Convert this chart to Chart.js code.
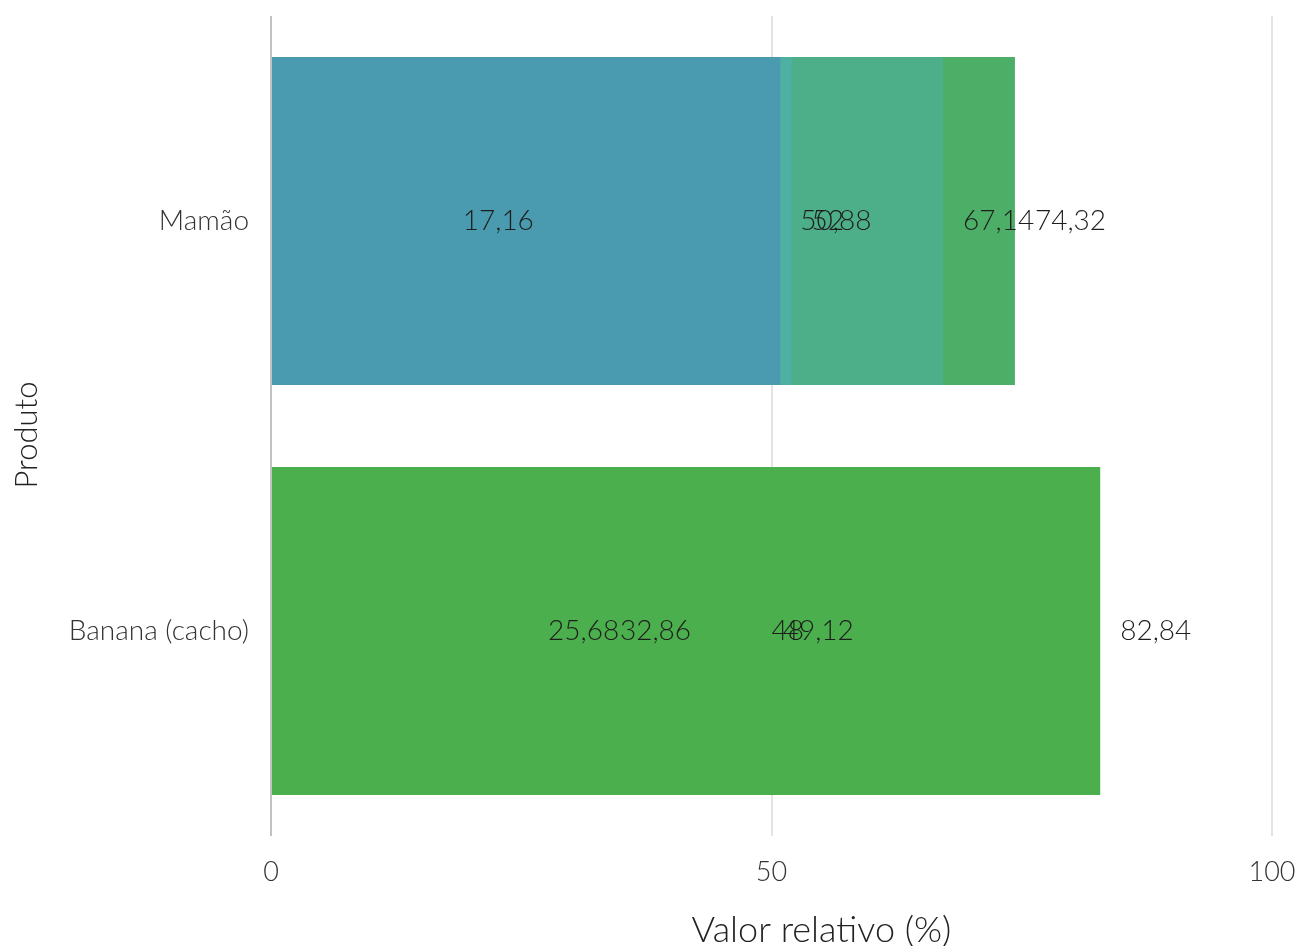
<!DOCTYPE html>
<html lang="pt-BR">
<head>
<meta charset="utf-8">
<title>Valor relativo por produto</title>
<script src="https://cdn.jsdelivr.net/npm/chart.js@4.4.1/dist/chart.umd.min.js"></script>
<style>
    html, body { margin: 0; padding: 0; background: #ffffff; }
    #wrap { width: 1301px; height: 946px; position: relative; }
</style>
</head>
<body>
<div id="wrap"><canvas id="grafico"></canvas></div>
<script>
// dados do gráfico
const produtos = ['Mamão', 'Banana (cacho)'];
const valoresMamao = [17.16, 50.88, 52, 67.14, 74.32];
const valoresBanana = [25.68, 32.86, 48, 49.12, 82.84];
const coresMamao = ['#4a92b0', '#4a9baf', '#4db0a2', '#4daf89', '#4daf67'];
const coresBanana = ['#4b9ea8', '#4ca896', '#4cae7a', '#4cae66', '#4caf4d'];
// ordem de desenho (0 = por cima)
const ordemMamao = [1, 0, 2, 3, 4];
const ordemBanana = [4, 3, 2, 1, 0];
const ticksX = [0, 50, 100];

const fonte = 'Lato, "Open Sans", sans-serif';

// uma barra por dataset, sobrepostas na mesma categoria
function montarDatasets() {
    const datasets = [];
    valoresMamao.forEach((v, i) => {
        datasets.push({
            label: 'Mamão ' + i,
            data: [v, null],
            backgroundColor: coresMamao[i],
            order: ordemMamao[i]
        });
    });
    valoresBanana.forEach((v, i) => {
        datasets.push({
            label: 'Banana ' + i,
            data: [null, v],
            backgroundColor: coresBanana[i],
            order: ordemBanana[i]
        });
    });
    return datasets;
}

function formatar(v) {
    return String(v).replace('.', ',');
}

// sem margem extra para rótulos nas pontas dos eixos
function semPadding(scale) {
    scale.paddingLeft = 0;
    scale.paddingRight = 0;
    scale.paddingTop = 0;
    scale.paddingBottom = 0;
}

// rótulos de valor à direita do fim de cada barra
const rotulosPlugin = {
    id: 'rotulos',
    afterDatasetsDraw(chart) {
        const ctx = chart.ctx;
        ctx.save();
        ctx.font = '300 28px ' + fonte;
        ctx.fillStyle = '#1e1e1e';
        ctx.textAlign = 'left';
        ctx.textBaseline = 'middle';
        chart.data.datasets.forEach((ds, di) => {
            const meta = chart.getDatasetMeta(di);
            meta.data.forEach((bar, j) => {
                const v = ds.data[j];
                if (v === null || v === undefined) return;
                ctx.fillText(formatar(v), bar.x + 20, bar.y);
            });
        });
        ctx.restore();
    }
};

// títulos dos eixos
const titulosPlugin = {
    id: 'titulos',
    afterDraw(chart) {
        const ctx = chart.ctx;
        const area = chart.chartArea;
        ctx.save();
        ctx.fillStyle = '#222222';
        ctx.textAlign = 'center';
        ctx.textBaseline = 'alphabetic';
        ctx.font = '300 36px ' + fonte;
        ctx.fillText('Valor relativo (%)', (area.left + area.right) / 2 + 50, 942);
        ctx.font = '300 31px ' + fonte;
        ctx.translate(37, (area.top + area.bottom) / 2 + 9);
        ctx.rotate(-Math.PI / 2);
        ctx.fillText('Produto', 0, 0);
        ctx.restore();
    }
};

const grafico = new Chart(document.getElementById('grafico'), {
    type: 'bar',
    data: {
        labels: produtos,
        datasets: montarDatasets()
    },
    options: {
        indexAxis: 'y',
        responsive: true,
        maintainAspectRatio: false,
        animation: false,
        grouped: false,
        barPercentage: 0.8,
        categoryPercentage: 1,
        layout: {
            padding: { top: 16, right: 29, left: 0, bottom: 0 }
        },
        plugins: {
            legend: { display: false },
            tooltip: { enabled: false }
        },
        scales: {
            x: {
                min: 0,
                max: 100,
                afterBuildTicks(scale) {
                    scale.ticks = ticksX.map(v => ({ value: v }));
                },
                afterFit(scale) {
                    scale.height = 110;
                    semPadding(scale);
                },
                border: { display: false },
                grid: {
                    drawTicks: false,
                    lineWidth: 2,
                    color: c => (c.tick && c.tick.value === 0) ? '#c2c2c2' : '#e3e3e3'
                },
                ticks: {
                    padding: 20,
                    color: '#333333',
                    font: { family: fonte, size: 27, weight: '300' }
                }
            },
            y: {
                afterFit(scale) {
                    scale.width = 271;
                    semPadding(scale);
                },
                border: { display: false },
                grid: { display: false, drawTicks: false },
                ticks: {
                    padding: 22,
                    color: '#333333',
                    font: { family: fonte, size: 28, weight: '300' }
                }
            }
        }
    },
    plugins: [rotulosPlugin, titulosPlugin]
});
</script>
</body>
</html>
